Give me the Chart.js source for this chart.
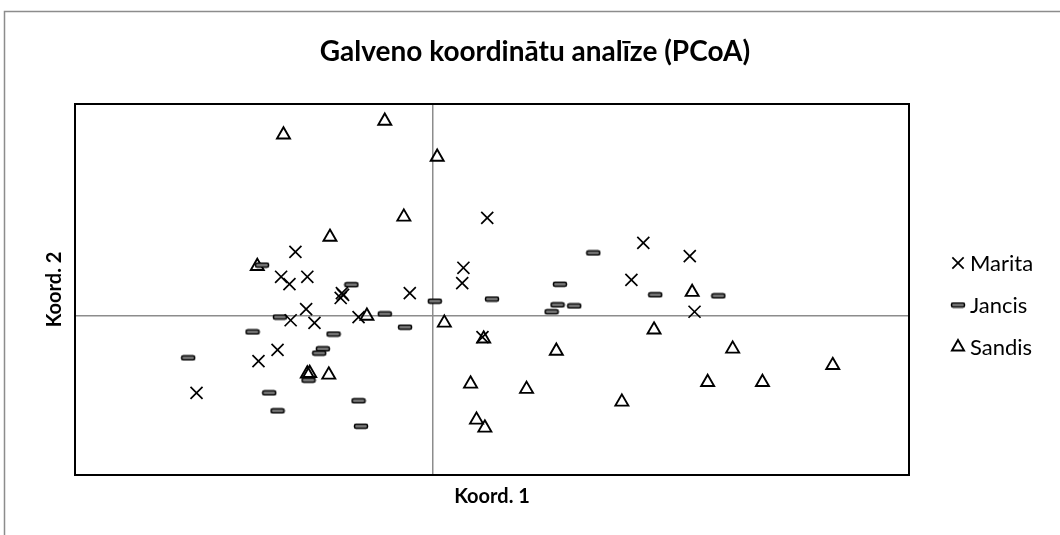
<!DOCTYPE html>
<html>
<head>
<meta charset="utf-8">
<script src="https://cdn.jsdelivr.net/npm/chart.js@4/dist/chart.umd.min.js"></script>
<style>
  html, body { margin: 0; padding: 0; background: #fff; }
  #wrap { width: 1060px; height: 535px; }
</style>
</head>
<body>
<div id="wrap"><canvas id="chart"></canvas></div>
<script>
// values (PCoA coordinates, axis 1 / axis 2)
const chartTitle = "Galveno koordinātu analīze (PCoA)";
const xTitle = "Koord. 1";
const yTitle = "Koord. 2";
const seriesNames = ["Marita", "Jancis", "Sandis"];

const maritaPoints = [
  [0.046, 0.185], [0.177, 0.138], [0.216, 0.113], [-0.115, 0.121],
  [0.026, 0.091], [-0.127, 0.074], [-0.105, 0.074], [-0.120, 0.060],
  [0.025, 0.062], [0.167, 0.068], [-0.076, 0.043], [-0.077, 0.034],
  [-0.075, 0.040], [-0.019, 0.043], [-0.106, 0.013], [-0.119, -0.008],
  [-0.099, -0.013], [-0.062, -0.002], [-0.130, -0.064], [-0.146, -0.085],
  [-0.198, -0.145], [0.042, -0.040], [0.220, 0.008]
];
const jancisPoints = [
  [-0.143, 0.096], [-0.068, 0.059], [-0.128, -0.002], [-0.040, 0.004],
  [-0.023, -0.021], [-0.151, -0.030], [-0.083, -0.034], [-0.092, -0.062],
  [-0.095, -0.070], [-0.205, -0.079], [-0.104, -0.121], [-0.137, -0.145],
  [-0.130, -0.179], [-0.062, -0.160], [-0.060, -0.208], [0.002, 0.028],
  [0.050, 0.032], [0.107, 0.060], [0.105, 0.021], [0.119, 0.019],
  [0.100, 0.008], [0.135, 0.119], [0.187, 0.040], [0.240, 0.038]
];
const sandisPoints = [
  [-0.125, 0.342], [-0.040, 0.368], [0.004, 0.300], [-0.024, 0.187],
  [-0.086, 0.149], [-0.147, 0.094], [-0.055, 0.000], [-0.105, -0.109],
  [-0.103, -0.108], [-0.087, -0.111], [0.010, -0.013], [0.043, -0.043],
  [0.104, -0.066], [0.032, -0.128], [0.079, -0.138], [0.037, -0.196],
  [0.044, -0.211], [0.159, -0.162], [0.186, -0.026], [0.218, 0.045],
  [0.252, -0.062], [0.231, -0.125], [0.277, -0.125], [0.336, -0.093]
];

const xMin = -0.3, xMax = 0.4;
const yMin = -0.3, yMax = 0.4;

const FONT = "Lato, 'Open Sans', sans-serif";

// small dash marker for Jancis (grey bar with dark outline)
function dashMarker() {
  const c = document.createElement("canvas");
  c.width = 16;
  c.height = 7;
  const g = c.getContext("2d");
  g.fillStyle = "#7f7f7f";
  g.strokeStyle = "#000";
  g.lineWidth = 1.5;
  g.beginPath();
  g.roundRect(1.5, 1.5, 13, 4, 1.5);
  g.fill();
  g.stroke();
  return c;
}
const jancisMarker = dashMarker();

function toXY(list) {
  return list.map(p => ({ x: p[0], y: p[1] }));
}

const isZero = v => Math.abs(v) < 1e-9;

// outer frame, plot box and legend
const frame = {
  id: "frame",
  beforeDraw(chart) {
    const ctx = chart.ctx;
    ctx.save();
    ctx.fillStyle = "#fff";
    ctx.fillRect(0, 0, chart.width, chart.height);
    ctx.strokeStyle = "#8c8c8c";
    ctx.lineWidth = 1.5;
    ctx.strokeRect(4.5, 11.5, 1200, 1000);
    ctx.restore();
  },
  afterDatasetsDraw(chart) {
    const { ctx, chartArea: a } = chart;
    ctx.save();
    ctx.strokeStyle = "#000";
    ctx.lineWidth = 2;
    ctx.strokeRect(a.left, a.top, a.right - a.left, a.bottom - a.top);
    ctx.restore();
  },
  afterDraw(chart) {
    const ctx = chart.ctx;
    const rows = [263, 305, 347];
    const sizes = [8, 6, 7];
    ctx.save();
    chart.data.datasets.forEach((ds, i) => {
      ctx.strokeStyle = "#000";
      ctx.fillStyle = ds.backgroundColor;
      ctx.lineWidth = ds.borderWidth;
      Chart.helpers.drawPoint(ctx, {
        pointStyle: ds.pointStyle,
        radius: sizes[i],
        borderWidth: ds.borderWidth,
        rotation: 0
      }, 958, rows[i]);
      ctx.font = "22px " + FONT;
      ctx.textBaseline = "middle";
      ctx.fillStyle = "#000";
      ctx.fillText(ds.label, 970, rows[i] + 1);
    });
    ctx.restore();
  }
};

new Chart(document.getElementById("chart"), {
  type: "scatter",
  data: {
    datasets: [
      {
        label: seriesNames[0],
        data: toXY(maritaPoints),
        pointStyle: "crossRot",
        pointRadius: 8.5,
        borderColor: "#000",
        backgroundColor: "#000",
        borderWidth: 1.7
      },
      {
        label: seriesNames[1],
        data: toXY(jancisPoints),
        pointStyle: jancisMarker,
        pointRadius: 7,
        borderColor: "#000",
        backgroundColor: "#7f7f7f",
        borderWidth: 1.5
      },
      {
        label: seriesNames[2],
        data: toXY(sandisPoints),
        pointStyle: "triangle",
        pointRadius: 7.5,
        borderColor: "#000",
        backgroundColor: "rgba(255,255,255,0)",
        borderWidth: 1.9
      }
    ]
  },
  options: {
    responsive: true,
    maintainAspectRatio: false,
    animation: false,
    events: [],
    layout: { padding: { left: 10, right: 0, top: 0, bottom: 0 } },
    plugins: {
      legend: { display: false },
      tooltip: { enabled: false },
      title: {
        display: true,
        text: chartTitle,
        color: "#000",
        font: { family: FONT, size: 28, weight: "bold" },
        padding: { top: 35.2, bottom: 35.2 }
      }
    },
    scales: {
      x: {
        type: "linear",
        min: xMin,
        max: xMax,
        ticks: { display: false, stepSize: 0.1 },
        border: { display: false },
        grid: {
          drawTicks: false,
          lineWidth: 1.5,
          color: c => (isZero(c.tick.value) ? "#8c8c8c" : "rgba(0,0,0,0)")
        },
        title: {
          display: true,
          text: xTitle,
          color: "#000",
          font: { family: FONT, size: 20, weight: "bold" },
          padding: { top: 0, bottom: 26 }
        },
        afterFit(s) { s.height = 60; }
      },
      y: {
        type: "linear",
        min: yMin,
        max: yMax,
        ticks: { display: false, stepSize: 0.1 },
        border: { display: false },
        grid: {
          drawTicks: false,
          lineWidth: 1.5,
          color: c => (isZero(c.tick.value) ? "#8c8c8c" : "rgba(0,0,0,0)")
        },
        title: {
          display: true,
          text: yTitle,
          color: "#000",
          font: { family: FONT, size: 20, weight: "bold" },
          padding: { top: 33, bottom: 0 }
        },
        afterFit(s) { s.width = 65; }
      },
      yRight: {
        type: "linear",
        position: "right",
        display: true,
        ticks: { display: false },
        grid: { display: false },
        border: { display: false },
        afterFit(s) { s.width = 151; }
      }
    }
  },
  plugins: [frame]
});
</script>
</body>
</html>
